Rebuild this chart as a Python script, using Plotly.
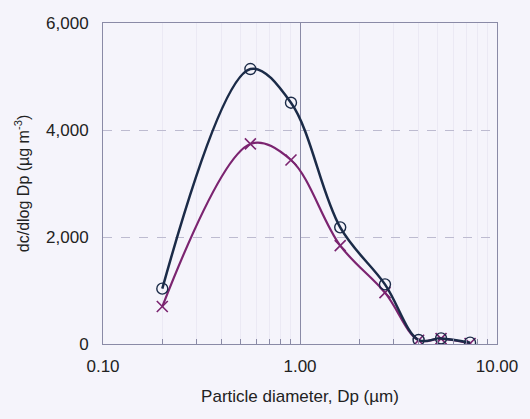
import plotly.graph_objects as go

# Particle size distribution (mass concentration per log size interval)
diameter_um = [0.2, 0.56, 0.9, 1.6, 2.7, 4.0, 5.2, 7.3]
series_circle = [1035, 5140, 4510, 2180, 1115, 75, 105, 25]
series_cross = [700, 3740, 3440, 1840, 960, 70, 100, 10]

x_tickvals = [0.1, 1, 10]
x_ticktext = ["0.10", "1.00", "10.00"]
y_tickvals = [0, 2000, 4000, 6000]
y_ticktext = ["0", "2,000", "4,000", "6,000"]
minor_vals = [m * d for d in (0.1, 1) for m in range(2, 10)]

navy = "#1b2b48"
purple = "#7b2470"
bg = "#f5f4fb"
font_family = "Liberation Sans, Arial, sans-serif"

fig = go.Figure()
fig.add_trace(go.Scatter(
    x=diameter_um, y=series_cross, mode="lines+markers",
    line=dict(color=purple, width=2.2, shape="spline", smoothing=1.0),
    marker=dict(symbol="x-thin", size=11, line=dict(color=purple, width=1.6)),
    showlegend=False,
))
fig.add_trace(go.Scatter(
    x=diameter_um, y=series_circle, mode="lines+markers",
    line=dict(color=navy, width=2.5, shape="spline", smoothing=1.0),
    marker=dict(symbol="circle-open", size=11, color=navy, line=dict(width=1.4)),
    showlegend=False,
))

fig.update_layout(
    width=530, height=419,
    margin=dict(l=103, r=29, t=23, b=75),
    paper_bgcolor=bg, plot_bgcolor=bg,
    font=dict(family=font_family, color="#222222"),
)
fig.update_xaxes(
    type="log", range=[-1, 1],
    tickvals=x_tickvals, ticktext=x_ticktext,
    tickfont=dict(size=17), ticks="", ticklabelstandoff=7,
    showgrid=True, gridcolor="#8a8aa6", gridwidth=1,
    minor=dict(tickvals=minor_vals, ticks="inside", ticklen=5,
               tickcolor="#8a8aa6", showgrid=True, gridcolor="#ebe9f4", gridwidth=1),
    showline=True, linecolor="#8a8aa6", linewidth=1, mirror=True,
    title=dict(text="Particle diameter, Dp (µm)", font=dict(size=17), standoff=14),
    zeroline=False,
)
fig.update_yaxes(
    range=[0, 6000],
    tickvals=y_tickvals, ticktext=y_ticktext,
    tickfont=dict(size=17), ticks="", ticklabelstandoff=10,
    showgrid=True, gridcolor="#bdbbd0", griddash="dash", gridwidth=1,
    showline=True, linecolor="#8a8aa6", linewidth=1, mirror=True,
    title=dict(text="dc/dlog Dp (µg m<sup>-3</sup>)", font=dict(size=16), standoff=12),
    zeroline=False,
)

fig.write_html("out.html")
